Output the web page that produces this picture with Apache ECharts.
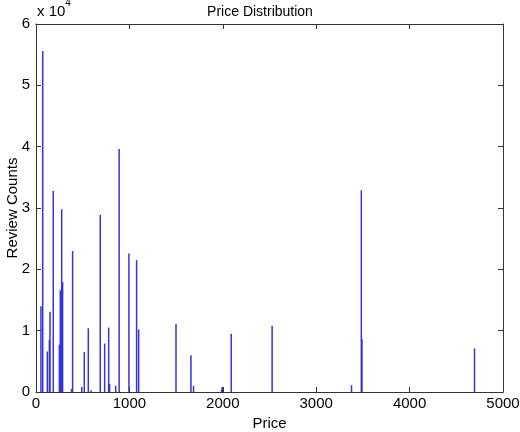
<!DOCTYPE html>
<html>
<head>
    <meta charset="UTF-8">
    <title>Price Distribution</title>
    <script src="https://cdn.jsdelivr.net/npm/echarts@6/dist/echarts.min.js"></script>
    <style>
        body { margin: 0; background: #fff; }
    </style>
</head>
<body>
<div id="chart" style="width:520px; height:432px;"></div>
<script>
    // price points and review counts
    var prices = [53, 72, 121, 143, 150, 185, 250, 260, 275, 285, 380, 392, 490, 517, 560, 590,
        688, 735, 778, 788, 853, 890, 995, 1077, 1099, 1499, 1659, 1687, 1987, 1994, 2090,
        2528, 3378, 3483, 3490, 4695];
    var counts = [14000, 55600, 6600, 8500, 13100, 32800, 7700, 16600, 29800, 17900, 500, 23000, 800,
        6500, 10400, 300, 28900, 7900, 10500, 1300, 1000, 39600, 22600, 21500, 10200, 11100,
        6000, 1000, 500, 800, 9500, 10800, 1100, 32900, 8600, 7100];
    var xTicks = {min: 0, max: 5000, step: 1000};
    var yTicks = {min: 0, max: 60000, step: 10000};

    var font = 'Liberation Sans, Arial, sans-serif';

    function frame() { return {show: true, onZero: false, lineStyle: {color: '#333', width: 1}}; }
    function tick() { return {show: true, inside: true, length: 5, lineStyle: {color: '#333', width: 1}}; }

    var points = prices.map(function (p, i) { return [p, counts[i]]; });

    var chart = echarts.init(document.getElementById('chart'), null, {renderer: 'canvas'});
    chart.setOption({
        animation: false,
        title: {
            text: 'Price Distribution', left: 'center', top: 0,
            textStyle: {fontFamily: font, fontSize: 14, fontWeight: 'normal', color: '#000'}
        },
        grid: {left: 36, right: 17, top: 24, bottom: 40, outerBoundsMode: 'none', containLabel: false},
        xAxis: [{
            type: 'value', min: xTicks.min, max: xTicks.max, interval: xTicks.step,
            name: 'Price', nameLocation: 'middle', nameGap: 19,
            nameTextStyle: {fontFamily: font, fontSize: 15, color: '#000'},
            axisLine: frame(), axisTick: tick(), splitLine: {show: false},
            axisLabel: {fontFamily: font, fontSize: 15, color: '#000', margin: 4,
                formatter: function (v) { return String(v); }}
        }, {
            type: 'value', position: 'top', min: xTicks.min, max: xTicks.max, interval: xTicks.step,
            axisLine: frame(), axisTick: tick(), splitLine: {show: false}, axisLabel: {show: false}
        }],
        yAxis: [{
            type: 'value', min: yTicks.min, max: yTicks.max, interval: yTicks.step,
            name: 'Review Counts', nameLocation: 'middle', nameGap: 16, nameMoveOverlap: false,
            nameTextStyle: {fontFamily: font, fontSize: 15, color: '#000'},
            axisLine: frame(), axisTick: tick(), splitLine: {show: false},
            axisLabel: {fontFamily: font, fontSize: 15, color: '#000', margin: 6,
                formatter: function (v) { return String(v / 10000); }}
        }, {
            type: 'value', position: 'right', min: yTicks.min, max: yTicks.max, interval: yTicks.step,
            axisLine: frame(), axisTick: tick(), splitLine: {show: false}, axisLabel: {show: false}
        }],
        graphic: [{
            type: 'text', left: 37, top: -2,
            style: {
                text: '{a|x 10}{b|4}',
                rich: {
                    a: {fontFamily: font, fontSize: 15, fill: '#000', padding: [6, 0, 0, 0]},
                    b: {fontFamily: font, fontSize: 10, fill: '#000', verticalAlign: 'top'}
                }
            }
        }],
        series: [{
            type: 'bar',
            data: points,
            barWidth: 1.5,
            itemStyle: {color: '#3434d8'}
        }]
    });
</script>
</body>
</html>
